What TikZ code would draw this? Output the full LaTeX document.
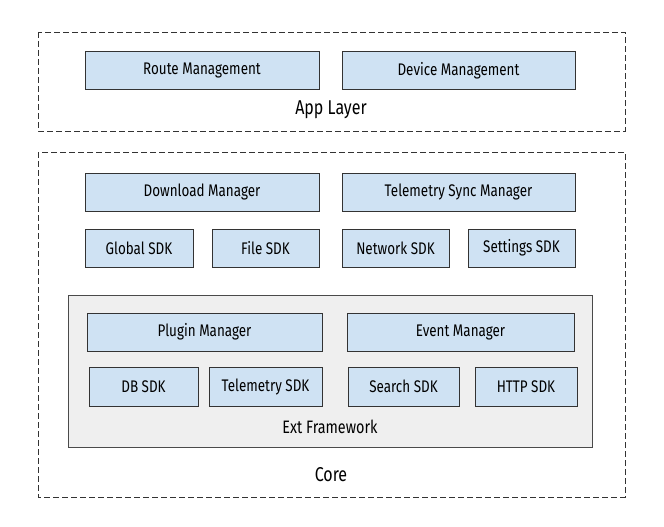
\documentclass[tikz,border=0pt]{standalone}
\usepackage{fontspec}
\setmainfont{Fira Sans}[FakeStretch=0.8]
\usepackage{tikz}
\usetikzlibrary{positioning}
\definecolor{boxblue}{HTML}{CFE2F3}
\definecolor{boxline}{HTML}{333333}
\definecolor{framegray}{HTML}{EFEFEF}
\definecolor{frameline}{HTML}{4A4A4A}

\tikzset{
  comp/.style={draw=boxline, fill=boxblue, line width=0.9pt, inner sep=0pt,
    minimum height=38pt, font=\fontsize{16.8}{18}\selectfont},
  layerbox/.style={draw=boxline, line width=0.9pt, dash pattern=on 6pt off 3pt},
  extbox/.style={draw=frameline, fill=framegray, line width=0.9pt},
  layerlabel/.style={font=\fontsize{20}{22}\selectfont, inner sep=0pt},
  extlabel/.style={font=\fontsize{18}{20}\selectfont, inner sep=0pt}
}

\begin{document}
\begin{tikzpicture}[x=1pt, y=-1pt]
  \useasboundingbox (0,0) rectangle (664,527);

  % app layer
  \draw[layerbox] (38,32) rectangle (625,131);
  \node[comp, minimum width=234pt] (route) at (202,70.5) {Route Management};
  \node[comp, minimum width=233pt] (device) at (458.5,70.5) {Device Management};
  \node[layerlabel] (applabel) at (331,110) {App Layer};

  % core
  \draw[layerbox] (38,152) rectangle (625,497);
  \node[comp, minimum width=234pt] (download) at (202,192) {Download Manager};
  \node[comp, minimum width=233pt] (telesync) at (458.5,192) {Telemetry Sync Manager};
  \node[comp, minimum width=108pt] (globalsdk) at (139,248) {Global SDK};
  \node[comp, minimum width=107pt] (filesdk) at (265.5,248) {File SDK};
  \node[comp, minimum width=107pt] (networksdk) at (395.5,248) {Network SDK};
  \node[comp, minimum width=107pt] (settingssdk) at (521.5,248) {Settings SDK};

  % ext framework
  \draw[extbox] (68,295) rectangle (592,447);
  \node[comp, minimum width=235pt] (plugin) at (204.5,332) {Plugin Manager};
  \node[comp, minimum width=227pt] (event) at (460.5,332) {Event Manager};
  \node[comp, minimum width=109pt, minimum height=39pt] (dbsdk) at (143.5,386.5) {DB SDK};
  \node[comp, minimum width=113pt, minimum height=39pt] (telesdk) at (265.5,386.5) {Telemetry SDK};
  \node[comp, minimum width=111pt, minimum height=39pt] (searchsdk) at (403.5,386.5) {Search SDK};
  \node[comp, minimum width=102pt, minimum height=39pt] (httpsdk) at (526,386.5) {HTTP SDK};
  \node[extlabel] (extlabel) at (330,427) {Ext Framework};

  \node[layerlabel] (corelabel) at (331,475) {Core};
\end{tikzpicture}
\end{document}
